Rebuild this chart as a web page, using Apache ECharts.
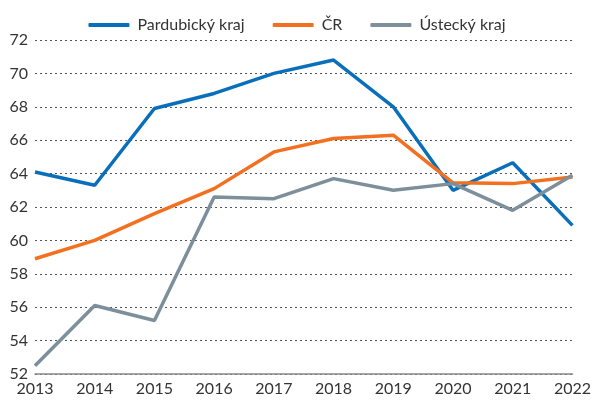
<!DOCTYPE html>
<html>
<head>
<meta charset="utf-8">
<script src="https://cdn.jsdelivr.net/npm/echarts@6/dist/echarts.min.js"></script>
<style>
  html, body { margin: 0; padding: 0; background: #fff; }
  #chart { width: 594px; height: 400px; }
</style>
</head>
<body>
<div id="chart"></div>
<script>
// roky a hodnoty
const years = ['2013', '2014', '2015', '2016', '2017', '2018', '2019', '2020', '2021', '2022']
const pardubicky = [64.1, 63.3, 67.9, 68.8, 70.0, 70.8, 68.0, 63.0, 64.65, 60.9]
const cr = [58.9, 60.0, 61.6, 63.1, 65.3, 66.1, 66.3, 63.45, 63.4, 63.8]
const ustecky = [52.5, 56.1, 55.2, 62.6, 62.5, 63.7, 63.0, 63.4, 61.8, 63.9]

const font = 'Lato, "DejaVu Sans", sans-serif'
const chart = echarts.init(document.getElementById('chart'))

const line = (name, data, color) => ({
  name: name,
  type: 'line',
  data: data,
  symbol: 'none',
  lineStyle: { width: 3.5, color: color },
  itemStyle: { color: color },
})

chart.setOption({
  animation: false,
  textStyle: { fontFamily: font },
  legend: {
    top: 12,
    left: 'center',
    itemWidth: 41,
    itemHeight: 4,
    itemGap: 28,
    icon: 'roundRect',
    textStyle: { fontSize: 16, color: '#333', fontFamily: font, padding: [0, 0, 0, 3] },
    data: ['Pardubický kraj', 'ČR', 'Ústecký kraj'],
  },
  grid: { left: 35, right: 14, top: 40, bottom: 26, containLabel: false },
  xAxis: {
    type: 'category',
    boundaryGap: false,
    data: years,
    axisLine: { lineStyle: { color: '#888', width: 1.5 } },
    axisTick: { show: false },
    axisLabel: { color: '#333', fontSize: 16, margin: 7, fontFamily: font },
  },
  yAxis: {
    type: 'value',
    min: 52,
    max: 72,
    interval: 2,
    axisLine: { show: false },
    axisTick: { show: false },
    axisLabel: { color: '#333', fontSize: 16, margin: 7, fontFamily: font },
    splitLine: { lineStyle: { color: '#555', type: [2, 3], width: 1 } },
  },
  series: [
    line('Pardubický kraj', pardubicky, '#0a6fba'),
    line('ČR', cr, '#f37021'),
    line('Ústecký kraj', ustecky, '#7c8f9a'),
  ],
})
</script>
</body>
</html>
